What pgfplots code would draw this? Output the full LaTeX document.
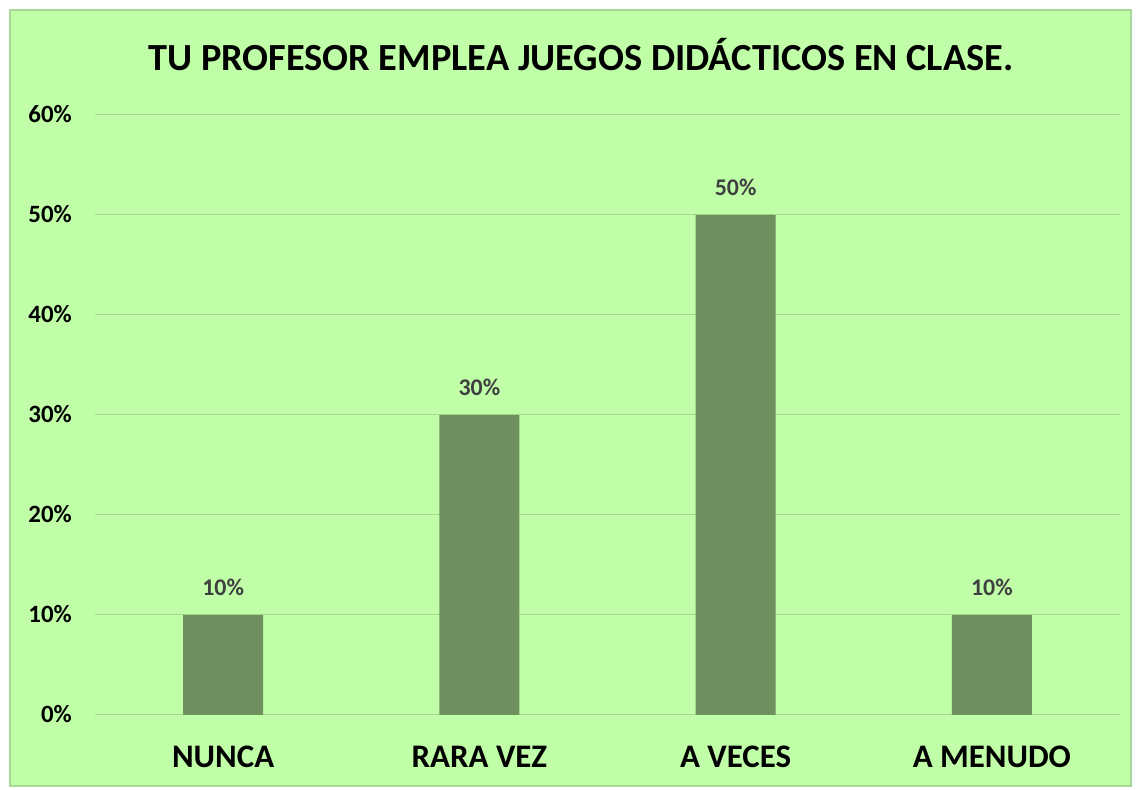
\documentclass[border=0pt]{standalone}
\usepackage{pgfplots}
\pgfplotsset{compat=1.18}
\usepackage{fontspec}
\setmainfont{Carlito}
\definecolor{bg}{HTML}{C0FFA8}
\definecolor{barc}{HTML}{6E8F5E}
\definecolor{gridc}{HTML}{A5DA8E}
\definecolor{framec}{HTML}{A8D898}
\definecolor{lbl}{HTML}{404040}
\begin{document}
\begin{tikzpicture}[x=1bp,y=1bp]
\fill[white] (0,0) rectangle (1138,790);
\filldraw[fill=bg, draw=framec, line width=1.5bp] (10,4) rectangle (1131,780);
\node[font=\fontsize{38.5}{44}\selectfont\bfseries, anchor=base, inner sep=0] at (581,719) {TU PROFESOR EMPLEA JUEGOS DIDÁCTICOS EN CLASE.};
\begin{axis}[
  at={(95bp,75bp)}, anchor=south west,
  scale only axis, width=1025bp, height=600bp,
  xmin=-0.5, xmax=3.5, ymin=0, ymax=60,
  ybar, bar width=80bp,
  axis line style={draw=none},
  major tick length=0pt,
  ymajorgrids, grid style={gridc, line width=1bp},
  xtick={0,1,2,3},
  xticklabels={NUNCA, RARA VEZ, A VECES, A MENUDO},
  ytick={0,10,20,30,40,50,60},
  yticklabels={0\%,10\%,20\%,30\%,40\%,50\%,60\%},
  xticklabel style={font=\fontsize{33}{38}\selectfont\bfseries, anchor=base, inner sep=0pt, yshift=-53bp},
  yticklabel style={font=\fontsize{25}{30}\selectfont\bfseries, anchor=base east, inner sep=0pt, xshift=-23bp, yshift=-7.5bp},
  nodes near coords={\pgfmathprintnumber[assume math mode=true]{\pgfplotspointmeta}\%},
  nodes near coords style={font=\fontsize{24}{28}\selectfont\bfseries, text=lbl, anchor=base, inner sep=0pt, yshift=19bp},
]
\addplot[fill=barc, draw=none] coordinates {(0,10) (1,30) (2,50) (3,10)};
\end{axis}
\end{tikzpicture}
\end{document}
